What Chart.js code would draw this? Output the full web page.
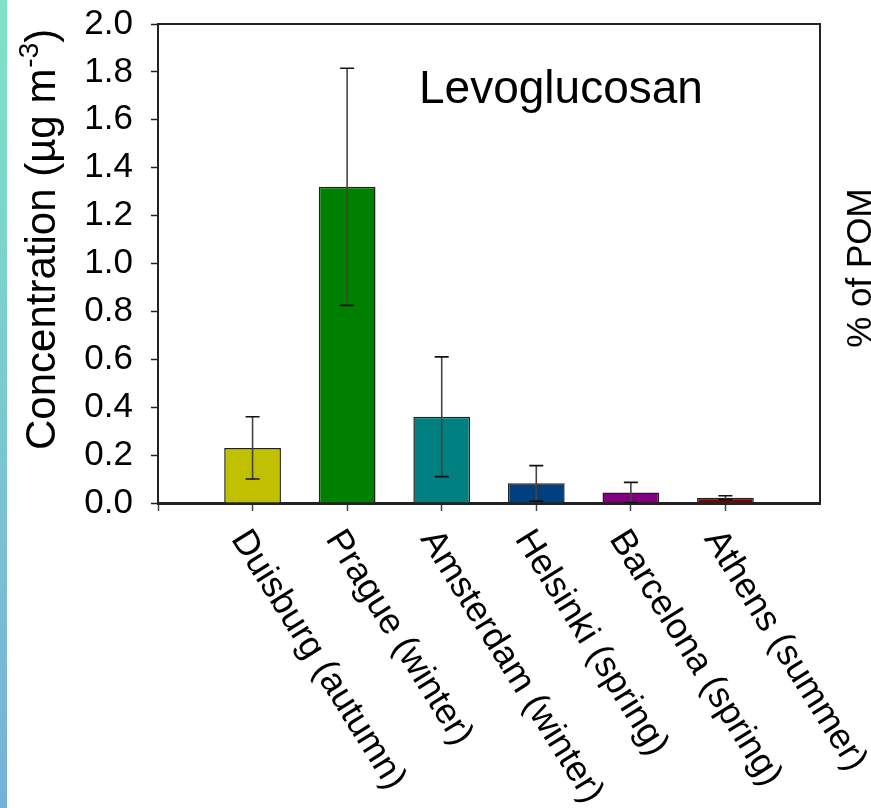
<!DOCTYPE html>
<html>
<head>
<meta charset="utf-8">
<title>Levoglucosan</title>
<script src="https://cdn.jsdelivr.net/npm/chart.js@4.4.0/dist/chart.umd.min.js"></script>
<style>
    html, body { margin: 0; padding: 0; background: #fff; overflow: hidden; }
    #wrap { position: relative; width: 871px; height: 808px; }
    #strip { position: absolute; left: 0; top: 0; width: 7px; height: 808px; background: linear-gradient(#7fe3c6, #77b0d9); }
    #chart { position: absolute; left: 0; top: 0; }
</style>
</head>
<body>
<div id="wrap">
    <canvas id="chart" width="871" height="808"></canvas>
    <div id="strip"></div>
</div>
<script>
// values
const categories = ['Duisburg (autumn)', 'Prague (winter)', 'Amsterdam (winter)', 'Helsinki (spring)', 'Barcelona (spring)', 'Athens (summer)'];
const concentration = [0.23, 1.32, 0.36, 0.082, 0.044, 0.022];
const errorPlusMinus = [0.13, 0.495, 0.25, 0.074, 0.042, 0.008];
const barColors = ['#c0c000', '#008000', '#008080', '#004080', '#800080', '#800000'];
const yTickLabels = ['0.0', '0.2', '0.4', '0.6', '0.8', '1.0', '1.2', '1.4', '1.6', '1.8', '2.0'];

const FONT = '"Liberation Sans", Arial, Helvetica, sans-serif';

// empty slot at each end, bars sit on positions 1..6
const slotLabels = ['', ...categories, ''];
const slotValues = [null, ...concentration, null];
const slotColors = ['transparent', ...barColors, 'transparent'];

const drawExtras = {
    id: 'drawExtras',
    afterDatasetsDraw(chart) {
        const { ctx, chartArea: area, scales: { x, y } } = chart;

        // error bars
        ctx.save();
        concentration.forEach((v, i) => {
            const px = x.getPixelForValue(i + 1);
            const top = y.getPixelForValue(v + errorPlusMinus[i]);
            const bot = y.getPixelForValue(Math.max(0, v - errorPlusMinus[i]));
            ctx.strokeStyle = '#444';
            ctx.lineWidth = 1.6;
            ctx.beginPath();
            ctx.moveTo(px, top);
            ctx.lineTo(px, bot);
            ctx.stroke();
            ctx.strokeStyle = '#111';
            ctx.beginPath();
            ctx.moveTo(px - 7, top);
            ctx.lineTo(px + 7, top);
            ctx.moveTo(px - 7, bot);
            ctx.lineTo(px + 7, bot);
            ctx.stroke();
        });
        ctx.restore();

        // frame: top and right sides
        ctx.save();
        ctx.strokeStyle = '#222';
        ctx.lineWidth = 2;
        ctx.beginPath();
        ctx.moveTo(area.left, area.top);
        ctx.lineTo(area.right, area.top);
        ctx.lineTo(area.right, area.bottom);
        ctx.stroke();
        ctx.restore();

        ctx.save();
        ctx.fillStyle = '#000';
        ctx.textBaseline = 'alphabetic';

        // panel title
        ctx.font = '46px ' + FONT;
        ctx.textAlign = 'left';
        ctx.fillText('Levoglucosan', 419, 103);

        // rotated category labels
        ctx.font = '36px ' + FONT;
        const ang = 58 * Math.PI / 180;
        categories.forEach((c, i) => {
            const px = x.getPixelForValue(i + 1);
            ctx.save();
            ctx.translate(px, area.bottom + 22);
            ctx.rotate(ang);
            ctx.fillText(c, 0, 26);
            ctx.restore();
        });

        // left axis title with superscript
        ctx.save();
        ctx.translate(55, 450);
        ctx.rotate(-Math.PI / 2);
        ctx.font = '42px ' + FONT;
        const main = 'Concentration (\u00b5g m';
        ctx.fillText(main, 0, 0);
        let w = ctx.measureText(main).width;
        ctx.font = '28px ' + FONT;
        ctx.fillText('-3', w + 1, -17);
        w += ctx.measureText('-3').width + 1;
        ctx.font = '42px ' + FONT;
        ctx.fillText(')', w, 0);
        ctx.restore();

        // right axis title, runs off the edge as in the figure
        ctx.save();
        ctx.translate(871, 268);
        ctx.rotate(-Math.PI / 2);
        ctx.font = '35px ' + FONT;
        ctx.textAlign = 'center';
        ctx.fillText('% of POM', 0, 0);
        ctx.restore();

        ctx.restore();
    }
};

new Chart(document.getElementById('chart'), {
    type: 'bar',
    data: {
        labels: slotLabels,
        datasets: [{
            data: slotValues,
            backgroundColor: slotColors,
            borderColor: '#222',
            borderWidth: 1.5,
            barPercentage: 0.6,
            categoryPercentage: 1
        }]
    },
    options: {
        responsive: false,
        animation: false,
        layout: { padding: { left: 58, right: 51, top: 24, bottom: 297 } },
        plugins: { legend: { display: false }, tooltip: { enabled: false }, title: { display: false } },
        scales: {
            x: {
                type: 'category',
                offset: false,
                grid: {
                    offset: false,
                    drawOnChartArea: false,
                    drawTicks: true,
                    tickLength: 8,
                    tickColor: (c) => (c.index === slotLabels.length - 1 ? 'transparent' : '#444'),
                    tickWidth: 1.5
                },
                border: { display: true, color: '#222', width: 3 },
                ticks: { display: false },
                afterFit: (scale) => { scale.height = 8; }
            },
            y: {
                min: 0,
                max: 2,
                grid: { drawOnChartArea: false, tickLength: 7, tickColor: '#222', tickWidth: 1.5 },
                border: { display: true, color: '#222', width: 2 },
                ticks: {
                    stepSize: 0.2,
                    padding: 18,
                    color: '#000',
                    font: { family: FONT, size: 35 },
                    callback: (v, i) => yTickLabels[i]
                },
                afterFit: (scale) => {
                    scale.width = 100;
                    scale.paddingTop = 0;
                    scale.paddingBottom = 0;
                }
            }
        }
    },
    plugins: [drawExtras]
});
</script>
</body>
</html>
